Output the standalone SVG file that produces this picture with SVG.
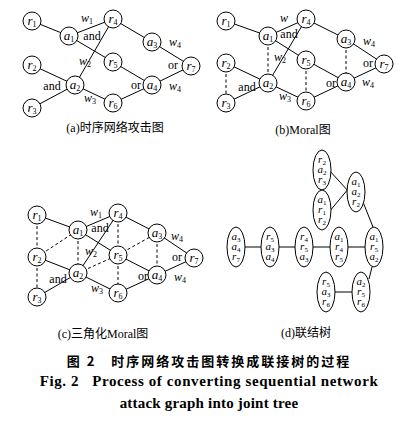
<svg xmlns="http://www.w3.org/2000/svg" width="412" height="431" viewBox="0 0 412 431">
<style>
.c{fill:#fff;stroke:#000;stroke-width:1}
.e{stroke:#000;stroke-width:1;fill:none}
.d{stroke:#000;stroke-width:1;fill:none;stroke-dasharray:3,2.5}
.n{font-family:"Liberation Serif",serif;font-style:italic;font-size:13px;text-anchor:middle}
.m{font-family:"Liberation Serif",serif;font-style:italic;font-size:11px;text-anchor:middle}
.s{font-style:normal;font-size:8px}
.m .s{font-size:7px}
.l{font-family:"Liberation Serif",serif;font-size:12px;text-anchor:middle}
.w{font-family:"Liberation Serif",serif;font-style:italic;font-size:12px;text-anchor:middle}
.cap{font-family:"Liberation Serif","Noto Sans CJK SC",serif;font-size:12px;text-anchor:middle}
.t1{font-family:"Noto Sans CJK SC",sans-serif;font-weight:bold;font-size:13px;text-anchor:middle;letter-spacing:2px}
.t2{font-family:"Liberation Serif",serif;font-weight:bold;font-size:15px;text-anchor:middle}
</style>
<rect width="412" height="431" fill="#fff"/>

<!-- Panel (a) -->
<g id="conn-a">
<line class="e" x1="32" y1="21" x2="69" y2="36"/>
<line class="e" x1="69" y1="36" x2="113" y2="19"/>
<line class="e" x1="69" y1="36" x2="113" y2="62"/>
<line class="e" x1="32" y1="65" x2="75" y2="85"/>
<line class="e" x1="32" y1="108" x2="75" y2="85"/>
<line class="e" x1="75" y1="85" x2="113" y2="19"/>
<line class="e" x1="75" y1="85" x2="113" y2="103"/>
<line class="e" x1="113" y1="19" x2="152" y2="42"/>
<line class="e" x1="152" y1="42" x2="191" y2="66"/>
<line class="e" x1="113" y1="62" x2="152" y2="85"/>
<line class="e" x1="113" y1="103" x2="152" y2="85"/>
<line class="e" x1="152" y1="85" x2="191" y2="66"/>
</g>
<g id="a-r1"><circle class="c" cx="32" cy="21" r="9"/><text class="n" x="32" y="25">r<tspan class="s" dy="2">1</tspan></text></g>
<g id="a-a1"><circle class="c" cx="69" cy="36" r="9"/><text class="n" x="69" y="40">a<tspan class="s" dy="2">1</tspan></text></g>
<g id="a-r4"><circle class="c" cx="113" cy="19" r="9"/><text class="n" x="113" y="23">r<tspan class="s" dy="2">4</tspan></text></g>
<g id="a-a3"><circle class="c" cx="152" cy="42" r="9"/><text class="n" x="152" y="46">a<tspan class="s" dy="2">3</tspan></text></g>
<g id="a-r7"><circle class="c" cx="191" cy="66" r="9"/><text class="n" x="191" y="70">r<tspan class="s" dy="2">7</tspan></text></g>
<g id="a-r2"><circle class="c" cx="32" cy="65" r="9"/><text class="n" x="32" y="69">r<tspan class="s" dy="2">2</tspan></text></g>
<g id="a-r5"><circle class="c" cx="113" cy="62" r="9"/><text class="n" x="113" y="66">r<tspan class="s" dy="2">5</tspan></text></g>
<g id="a-a2"><circle class="c" cx="75" cy="85" r="9"/><text class="n" x="75" y="89">a<tspan class="s" dy="2">2</tspan></text></g>
<g id="a-a4"><circle class="c" cx="152" cy="85" r="9"/><text class="n" x="152" y="89">a<tspan class="s" dy="2">4</tspan></text></g>
<g id="a-r3"><circle class="c" cx="32" cy="108" r="9"/><text class="n" x="32" y="112">r<tspan class="s" dy="2">3</tspan></text></g>
<g id="a-r6"><circle class="c" cx="113" cy="103" r="9"/><text class="n" x="113" y="107">r<tspan class="s" dy="2">6</tspan></text></g>
<g id="a-labels">
<text class="w" x="87" y="22">w<tspan class="s" dy="2">1</tspan></text>
<text class="l" x="92" y="40">and</text>
<text class="w" x="85" y="65">w<tspan class="s" dy="2">2</tspan></text>
<text class="w" x="90" y="102">w<tspan class="s" dy="2">3</tspan></text>
<text class="l" x="52" y="90">and</text>
<text class="l" x="136" y="89">or</text>
<text class="w" x="175" y="46">w<tspan class="s" dy="2">4</tspan></text>
<text class="l" x="173" y="69">or</text>
<text class="w" x="175" y="90">w<tspan class="s" dy="2">4</tspan></text>
<text class="cap" x="115" y="132">(a)时序网络攻击图</text>
</g>

<!-- Panel (b) -->
<g id="conn-b">
<line class="e" x1="226" y1="21" x2="268" y2="36"/>
<line class="e" x1="268" y1="36" x2="306" y2="19"/>
<line class="e" x1="268" y1="36" x2="306" y2="60"/>
<line class="e" x1="226" y1="63" x2="268" y2="83"/>
<line class="e" x1="226" y1="103" x2="268" y2="83"/>
<line class="e" x1="268" y1="83" x2="306" y2="19"/>
<line class="e" x1="268" y1="83" x2="306" y2="101"/>
<line class="e" x1="306" y1="19" x2="346" y2="39"/>
<line class="e" x1="346" y1="39" x2="384" y2="64"/>
<line class="e" x1="306" y1="60" x2="346" y2="82"/>
<line class="e" x1="306" y1="101" x2="346" y2="82"/>
<line class="e" x1="346" y1="82" x2="384" y2="64"/>
<line class="d" x1="268" y1="36" x2="268" y2="83"/>
<line class="d" x1="226" y1="63" x2="226" y2="103"/>
<line class="d" x1="306" y1="60" x2="306" y2="101"/>
<line class="d" x1="346" y1="39" x2="346" y2="82"/>
</g>
<g id="b-r1"><circle class="c" cx="226" cy="21" r="9"/><text class="n" x="226" y="25">r<tspan class="s" dy="2">1</tspan></text></g>
<g id="b-a1"><circle class="c" cx="268" cy="36" r="9"/><text class="n" x="268" y="40">a<tspan class="s" dy="2">1</tspan></text></g>
<g id="b-r4"><circle class="c" cx="306" cy="19" r="9"/><text class="n" x="306" y="23">r<tspan class="s" dy="2">4</tspan></text></g>
<g id="b-a3"><circle class="c" cx="346" cy="39" r="9"/><text class="n" x="346" y="43">a<tspan class="s" dy="2">3</tspan></text></g>
<g id="b-r7"><circle class="c" cx="384" cy="64" r="9"/><text class="n" x="384" y="68">r<tspan class="s" dy="2">7</tspan></text></g>
<g id="b-r2"><circle class="c" cx="226" cy="63" r="9"/><text class="n" x="226" y="67">r<tspan class="s" dy="2">2</tspan></text></g>
<g id="b-r5"><circle class="c" cx="306" cy="60" r="9"/><text class="n" x="306" y="64">r<tspan class="s" dy="2">5</tspan></text></g>
<g id="b-a2"><circle class="c" cx="268" cy="83" r="9"/><text class="n" x="268" y="87">a<tspan class="s" dy="2">2</tspan></text></g>
<g id="b-a4"><circle class="c" cx="346" cy="82" r="9"/><text class="n" x="346" y="86">a<tspan class="s" dy="2">4</tspan></text></g>
<g id="b-r3"><circle class="c" cx="226" cy="103" r="9"/><text class="n" x="226" y="107">r<tspan class="s" dy="2">3</tspan></text></g>
<g id="b-r6"><circle class="c" cx="306" cy="101" r="9"/><text class="n" x="306" y="105">r<tspan class="s" dy="2">6</tspan></text></g>
<g id="b-labels">
<text class="w" x="284" y="22">w</text>
<text class="l" x="289" y="38">and</text>
<text class="w" x="280" y="61">w<tspan class="s" dy="2">2</tspan></text>
<text class="w" x="285" y="100">w<tspan class="s" dy="2">3</tspan></text>
<text class="l" x="247" y="91">and</text>
<text class="l" x="331" y="87">or</text>
<text class="w" x="369" y="45">w<tspan class="s" dy="2">4</tspan></text>
<text class="l" x="368" y="67">or</text>
<text class="w" x="368" y="86">w<tspan class="s" dy="2">4</tspan></text>
<text class="cap" x="303" y="134">(b)Moral图</text>
</g>

<!-- Panel (c) -->
<g id="conn-c">
<line class="e" x1="37" y1="215" x2="78" y2="230"/>
<line class="e" x1="78" y1="230" x2="118" y2="213"/>
<line class="e" x1="78" y1="230" x2="118" y2="255"/>
<line class="e" x1="37" y1="257" x2="78" y2="273"/>
<line class="e" x1="37" y1="297" x2="78" y2="273"/>
<line class="e" x1="78" y1="273" x2="118" y2="213"/>
<line class="e" x1="78" y1="273" x2="118" y2="293"/>
<line class="e" x1="118" y1="213" x2="157" y2="233"/>
<line class="e" x1="157" y1="233" x2="194" y2="258"/>
<line class="e" x1="118" y1="255" x2="157" y2="275"/>
<line class="e" x1="118" y1="293" x2="157" y2="275"/>
<line class="e" x1="157" y1="275" x2="194" y2="258"/>
<line class="d" x1="37" y1="215" x2="37" y2="257"/>
<line class="d" x1="37" y1="257" x2="37" y2="297"/>
<line class="d" x1="37" y1="257" x2="78" y2="230"/>
<line class="d" x1="78" y1="230" x2="78" y2="273"/>
<line class="d" x1="118" y1="213" x2="118" y2="255"/>
<line class="d" x1="118" y1="255" x2="118" y2="293"/>
<line class="d" x1="78" y1="273" x2="118" y2="255"/>
<line class="d" x1="118" y1="255" x2="157" y2="233"/>
<line class="d" x1="157" y1="233" x2="157" y2="275"/>
</g>
<g id="c-r1"><circle class="c" cx="37" cy="215" r="9"/><text class="n" x="37" y="219">r<tspan class="s" dy="2">1</tspan></text></g>
<g id="c-a1"><circle class="c" cx="78" cy="230" r="9"/><text class="n" x="78" y="234">a<tspan class="s" dy="2">1</tspan></text></g>
<g id="c-r4"><circle class="c" cx="118" cy="213" r="9"/><text class="n" x="118" y="217">r<tspan class="s" dy="2">4</tspan></text></g>
<g id="c-a3"><circle class="c" cx="157" cy="233" r="9"/><text class="n" x="157" y="237">a<tspan class="s" dy="2">3</tspan></text></g>
<g id="c-r7"><circle class="c" cx="194" cy="258" r="9"/><text class="n" x="194" y="262">r<tspan class="s" dy="2">7</tspan></text></g>
<g id="c-r2"><circle class="c" cx="37" cy="257" r="9"/><text class="n" x="37" y="261">r<tspan class="s" dy="2">2</tspan></text></g>
<g id="c-r5"><circle class="c" cx="118" cy="255" r="9"/><text class="n" x="118" y="259">r<tspan class="s" dy="2">5</tspan></text></g>
<g id="c-a2"><circle class="c" cx="78" cy="273" r="9"/><text class="n" x="78" y="277">a<tspan class="s" dy="2">2</tspan></text></g>
<g id="c-a4"><circle class="c" cx="157" cy="275" r="9"/><text class="n" x="157" y="279">a<tspan class="s" dy="2">4</tspan></text></g>
<g id="c-r3"><circle class="c" cx="37" cy="297" r="9"/><text class="n" x="37" y="301">r<tspan class="s" dy="2">3</tspan></text></g>
<g id="c-r6"><circle class="c" cx="118" cy="293" r="9"/><text class="n" x="118" y="297">r<tspan class="s" dy="2">6</tspan></text></g>
<g id="c-labels">
<text class="w" x="96" y="216">w<tspan class="s" dy="2">1</tspan></text>
<text class="l" x="100" y="232">and</text>
<text class="w" x="91" y="255">w<tspan class="s" dy="2">2</tspan></text>
<text class="w" x="97" y="292">w<tspan class="s" dy="2">3</tspan></text>
<text class="l" x="58" y="283">and</text>
<text class="l" x="143" y="280">or</text>
<text class="w" x="177" y="240">w<tspan class="s" dy="2">4</tspan></text>
<text class="l" x="177" y="261">or</text>
<text class="w" x="180" y="281">w<tspan class="s" dy="2">4</tspan></text>
<text class="cap" x="103" y="338">(c)三角化Moral图</text>
</g>

<!-- Panel (d) -->
<g id="conn-d">
<line class="e" x1="329" y1="170" x2="349" y2="192"/>
<line class="e" x1="329" y1="212" x2="349" y2="188"/>
<line class="e" x1="363" y1="202" x2="373" y2="227"/>
<line class="e" x1="244" y1="247" x2="262" y2="247"/>
<line class="e" x1="278" y1="247" x2="296" y2="247"/>
<line class="e" x1="312" y1="247" x2="331" y2="247"/>
<line class="e" x1="347" y1="247" x2="366" y2="247"/>
<line class="e" x1="372" y1="267" x2="369" y2="279"/>
<line class="e" x1="334" y1="292" x2="353" y2="292"/>
</g>
<g id="d-e1"><ellipse class="c" cx="322" cy="170" rx="9" ry="20"/><text class="m"><tspan x="322" y="163">r</tspan><tspan class="s" dy="2">2</tspan><tspan x="322" y="173">a</tspan><tspan class="s" dy="2">2</tspan><tspan x="322" y="183">r</tspan><tspan class="s" dy="2">3</tspan></text></g>
<g id="d-e2"><ellipse class="c" cx="322" cy="210" rx="9" ry="20"/><text class="m"><tspan x="322" y="203">a</tspan><tspan class="s" dy="2">1</tspan><tspan x="322" y="213">r</tspan><tspan class="s" dy="2">1</tspan><tspan x="322" y="223">r</tspan><tspan class="s" dy="2">2</tspan></text></g>
<g id="d-e3"><ellipse class="c" cx="356" cy="192" rx="9" ry="20"/><text class="m"><tspan x="356" y="185">a</tspan><tspan class="s" dy="2">1</tspan><tspan x="356" y="195">a</tspan><tspan class="s" dy="2">2</tspan><tspan x="356" y="205">r</tspan><tspan class="s" dy="2">2</tspan></text></g>
<g id="d-e4"><ellipse class="c" cx="374" cy="247" rx="9" ry="20"/><text class="m"><tspan x="374" y="240">a</tspan><tspan class="s" dy="2">1</tspan><tspan x="374" y="250">r</tspan><tspan class="s" dy="2">5</tspan><tspan x="374" y="260">a</tspan><tspan class="s" dy="2">2</tspan></text></g>
<g id="d-e5"><ellipse class="c" cx="339" cy="247" rx="9" ry="20"/><text class="m"><tspan x="339" y="240">a</tspan><tspan class="s" dy="2">1</tspan><tspan x="339" y="250">r</tspan><tspan class="s" dy="2">4</tspan><tspan x="339" y="260">r</tspan><tspan class="s" dy="2">5</tspan></text></g>
<g id="d-e6"><ellipse class="c" cx="304" cy="247" rx="9" ry="20"/><text class="m"><tspan x="304" y="240">r</tspan><tspan class="s" dy="2">4</tspan><tspan x="304" y="250">r</tspan><tspan class="s" dy="2">5</tspan><tspan x="304" y="260">a</tspan><tspan class="s" dy="2">3</tspan></text></g>
<g id="d-e7"><ellipse class="c" cx="270" cy="247" rx="9" ry="20"/><text class="m"><tspan x="270" y="240">r</tspan><tspan class="s" dy="2">5</tspan><tspan x="270" y="250">a</tspan><tspan class="s" dy="2">3</tspan><tspan x="270" y="260">a</tspan><tspan class="s" dy="2">4</tspan></text></g>
<g id="d-e8"><ellipse class="c" cx="236" cy="247" rx="9" ry="20"/><text class="m"><tspan x="236" y="240">a</tspan><tspan class="s" dy="2">3</tspan><tspan x="236" y="250">a</tspan><tspan class="s" dy="2">4</tspan><tspan x="236" y="260">r</tspan><tspan class="s" dy="2">7</tspan></text></g>
<g id="d-e9"><ellipse class="c" cx="326" cy="292" rx="9" ry="20"/><text class="m"><tspan x="326" y="285">r</tspan><tspan class="s" dy="2">5</tspan><tspan x="326" y="295">a</tspan><tspan class="s" dy="2">3</tspan><tspan x="326" y="305">r</tspan><tspan class="s" dy="2">6</tspan></text></g>
<g id="d-e10"><ellipse class="c" cx="361" cy="292" rx="9" ry="20"/><text class="m"><tspan x="361" y="285">a</tspan><tspan class="s" dy="2">2</tspan><tspan x="361" y="295">r</tspan><tspan class="s" dy="2">5</tspan><tspan x="361" y="305">r</tspan><tspan class="s" dy="2">6</tspan></text></g>
<g id="d-labels">
<text class="cap" x="306" y="337">(d)联结树</text>
</g>

<g id="title">
<text class="t1" x="209" y="366" xml:space="preserve">图 2   时序网络攻击图转换成联接树的过程</text>
<text class="t2" x="209" y="386" letter-spacing="0.6" xml:space="preserve">Fig. 2   Process of converting sequential network</text>
<text class="t2" x="209" y="408" letter-spacing="0.2">attack graph into joint tree</text>
</g>
</svg>
